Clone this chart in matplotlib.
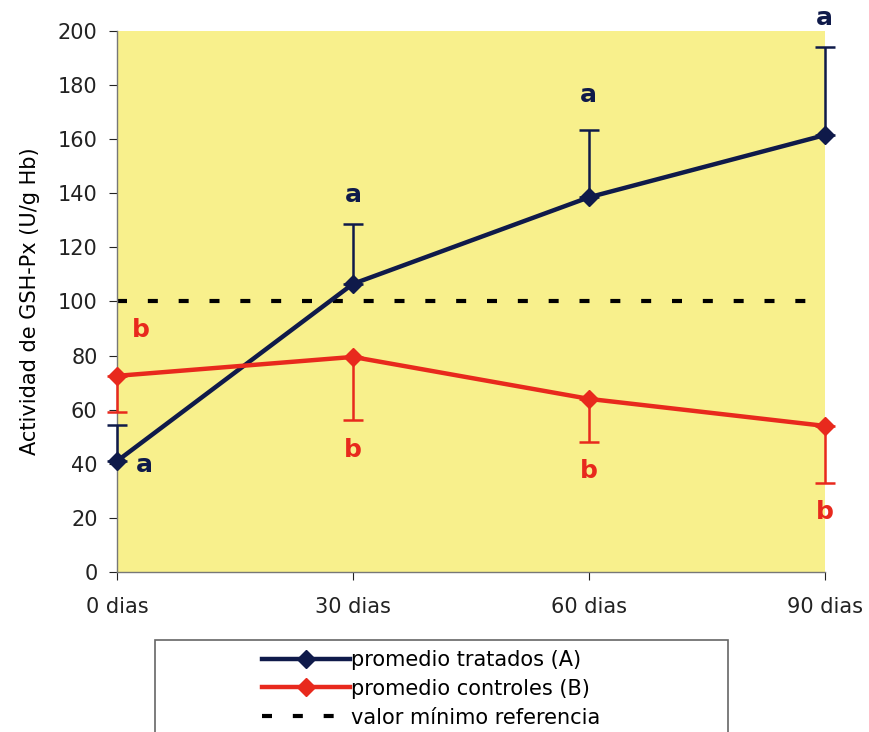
"""GSH-Px activity over time: treated vs control groups."""
import matplotlib.pyplot as plt
from matplotlib.patches import Rectangle

plt.rcParams["font.family"] = ["DejaVu Sans"]

# --- data ---
dias = ["0 dias", "30 dias", "60 dias", "90 dias"]
tratados = [41, 106.5, 138.5, 161.5]
tratados_err = [13.5, 22, 25, 32.5]        # upper error only
controles = [72.5, 79.5, 64, 54]
controles_err = [13.5, 23.5, 16, 21]        # lower error only
referencia = 100
letras_a = ["a", "a", "a", "a"]
letras_b = ["b", "b", "b", "b"]

navy = "#0f1a4a"
red = "#e8291d"
yellow = "#f8f08c"
dash = (0, (2.4, 5))

fig = plt.figure(figsize=(8.7, 7.32), dpi=100)
ax = fig.add_axes([0.1345, 0.2186, 0.8135, 0.7391])
ax.set_facecolor(yellow)

x = list(range(len(dias)))

ax.axhline(referencia, xmax=0.995, color="black", lw=3, ls=dash, zorder=2)

ax.errorbar(x, tratados, yerr=[[0] * 4, tratados_err], fmt="none",
            ecolor=navy, elinewidth=1.8, capsize=7, capthick=1.8, zorder=3,
            clip_on=False)
ax.errorbar(x, controles, yerr=[controles_err, [0] * 4], fmt="none",
            ecolor=red, elinewidth=1.8, capsize=7, capthick=1.8, zorder=3,
            clip_on=False)

l1, = ax.plot(x, tratados, color=navy, lw=3.2, marker="D", ms=9,
              label="promedio tratados (A)", zorder=4, clip_on=False)
l2, = ax.plot(x, controles, color=red, lw=3.2, marker="D", ms=9,
              label="promedio controles (B)", zorder=4, clip_on=False)
l3, = ax.plot([], [], color="black", lw=3, ls=dash,
              label="valor mínimo referencia")

# significance letters
txt = dict(ha="center", va="center", fontsize=18, fontweight="bold",
           textcoords="offset points", annotation_clip=False)
for i, (v, e, t) in enumerate(zip(tratados, tratados_err, letras_a)):
    if i == 0:
        ax.annotate(t, (i, v), xytext=(20, -3), color=navy, **txt)
    elif i == 2:
        ax.annotate(t, (i, v + e), xytext=(0, 25), color=navy, **txt)
    else:
        ax.annotate(t, (i, v + e), xytext=(0, 21), color=navy, **txt)
for i, (v, e, t) in enumerate(zip(controles, controles_err, letras_b)):
    if i == 0:
        ax.annotate(t, (i, v), xytext=(17, 33), color=red, **txt)
    else:
        ax.annotate(t, (i, v - e), xytext=(0, -21), color=red, **txt)

ax.set_xlim(0, 3)
ax.set_ylim(0, 200)
ax.set_yticks(range(0, 201, 20))
ax.set_xticks(x)
ax.set_xticklabels(dias)
ax.tick_params(labelsize=15, colors="#222222", length=6, width=0.8, pad=8)
ax.tick_params(axis="x", pad=12)
for s in ("top", "right"):
    ax.spines[s].set_visible(False)
for s in ("left", "bottom"):
    ax.spines[s].set_color("#777777")
    ax.spines[s].set_linewidth(1)
ax.set_ylabel("Actividad de GSH-Px (U/g Hb)", fontsize=15, labelpad=13)

# legend box (cut off at the bottom of the image)
fig.patches.append(Rectangle((155 / 870, -0.05), (728 - 155) / 870, 0.05 + (732 - 640) / 732,
                             transform=fig.transFigure, fill=False,
                             edgecolor="#666666", lw=1.2))
fig.legend(handles=[l1, l2, l3], loc="upper left", bbox_to_anchor=(262 / 870, 1 - 650 / 732),
           frameon=False, fontsize=15, handlelength=4.2, handletextpad=0.05,
           labelspacing=0.42, borderpad=0, borderaxespad=0)

fig.savefig("out.png", dpi=100)
